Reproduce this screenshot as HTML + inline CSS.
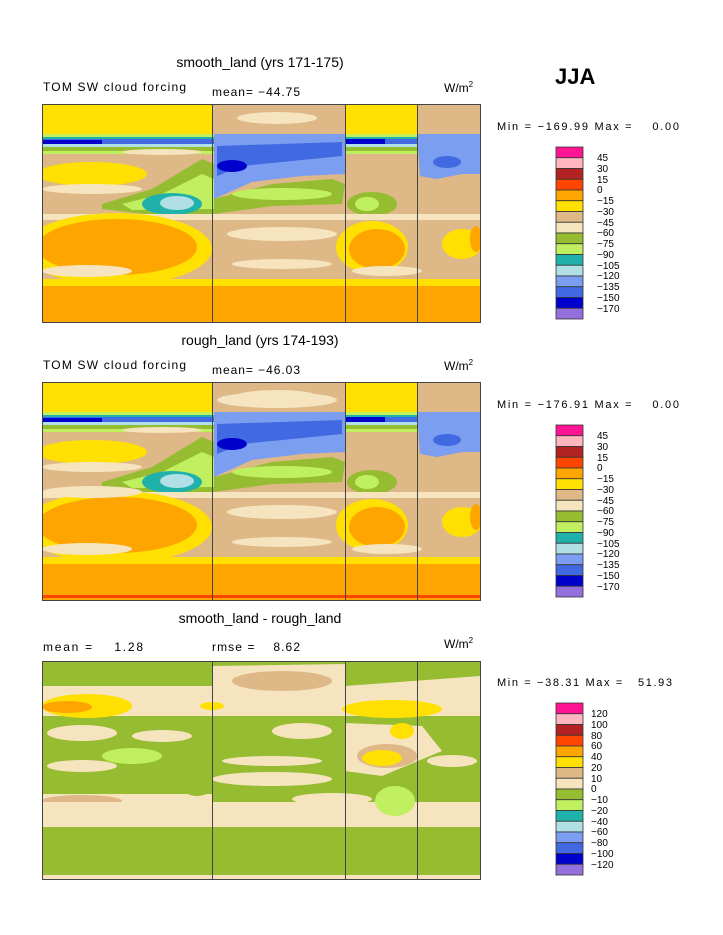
<!DOCTYPE html>
<html><head><meta charset="utf-8"><style>
body{margin:0;background:#fff;width:723px;height:935px;overflow:hidden}
svg{display:block}
text{font-family:"Liberation Sans",sans-serif;fill:#000;white-space:pre}
</style></head><body>
<svg width="723" height="935" viewBox="0 0 723 935">
<defs>
<clipPath id="cp"><rect x="0" y="0" width="438" height="218"/></clipPath>
<g id="p1">
<rect x="0" y="0" width="438" height="218" fill="#deb887"/>
<rect x="0" y="0" width="170" height="33" fill="#ffe000"/>
<rect x="303" y="0" width="72" height="30" fill="#ffe000"/>
<ellipse cx="235" cy="14" rx="40" ry="6" fill="#f5e4be"/>
<rect x="0" y="30" width="438" height="4" fill="#c0f060"/>
<rect x="0" y="33" width="438" height="3" fill="#20b2aa"/>
<rect x="0" y="35" width="438" height="5" fill="#4169e1"/>
<rect x="0" y="36" width="60" height="4" fill="#0000cd"/>
<rect x="303" y="35" width="40" height="5" fill="#0000cd"/>
<rect x="0" y="40" width="438" height="3" fill="#b0e0e6"/>
<rect x="0" y="43" width="438" height="4" fill="#96bc32"/>
<rect x="0" y="47" width="438" height="3" fill="#c0f060"/>
<path d="M172,30 L303,30 L303,70 L260,72 L210,78 L172,95 Z" fill="#7b9ef0"/>
<path d="M175,42 L300,38 L300,52 L240,58 L200,62 L175,72 Z" fill="#4169e1"/>
<ellipse cx="190" cy="62" rx="15" ry="6" fill="#0000cd"/>
<path d="M375,30 L438,30 L438,70 L420,70 L395,75 L378,72 Z" fill="#7b9ef0"/>
<ellipse cx="405" cy="58" rx="14" ry="6" fill="#4169e1"/>
<ellipse cx="50" cy="70" rx="55" ry="12" fill="#ffe000"/>
<ellipse cx="120" cy="48" rx="40" ry="3" fill="#f5e4be"/>
<ellipse cx="50" cy="85" rx="50" ry="5" fill="#f5e4be"/>
<path d="M60,100 L110,85 L160,55 L172,60 L172,115 L120,112 L60,105 Z" fill="#96bc32"/>
<path d="M80,100 L120,90 L160,70 L172,75 L172,105 L90,106 Z" fill="#c0f060"/>
<ellipse cx="130" cy="100" rx="30" ry="11" fill="#20b2aa"/>
<ellipse cx="135" cy="99" rx="17" ry="7" fill="#b0e0e6"/>
<path d="M172,95 L230,80 L290,75 L303,80 L300,100 L230,102 L172,110 Z" fill="#96bc32"/>
<ellipse cx="240" cy="90" rx="50" ry="6" fill="#c0f060"/>
<ellipse cx="330" cy="100" rx="25" ry="12" fill="#96bc32"/>
<ellipse cx="325" cy="100" rx="12" ry="7" fill="#c0f060"/>
<rect x="0" y="110" width="438" height="6" fill="#f5e4be"/>
<ellipse cx="75" cy="145" rx="95" ry="36" fill="#ffe000"/>
<ellipse cx="75" cy="143" rx="80" ry="28" fill="#ffa500"/>
<ellipse cx="330" cy="143" rx="36" ry="26" fill="#ffe000"/>
<ellipse cx="335" cy="145" rx="28" ry="20" fill="#ffa500"/>
<ellipse cx="420" cy="140" rx="20" ry="15" fill="#ffe000"/>
<ellipse cx="434" cy="135" rx="6" ry="13" fill="#ffa500"/>
<ellipse cx="240" cy="130" rx="55" ry="7" fill="#f5e4be"/>
<ellipse cx="240" cy="160" rx="50" ry="5" fill="#f5e4be"/>
<ellipse cx="45" cy="167" rx="45" ry="6" fill="#f5e4be"/>
<ellipse cx="345" cy="167" rx="35" ry="5" fill="#f5e4be"/>
<rect x="0" y="175" width="438" height="8" fill="#ffe000"/>
<rect x="0" y="182" width="438" height="36" fill="#ffa500"/>
</g>
</defs>

<text x="260" y="67" font-size="14" text-anchor="middle">smooth_land (yrs 171-175)</text>
<text x="43" y="91" font-size="12" textLength="143">TOM SW cloud forcing</text>
<text x="212" y="96" font-size="12" textLength="88">mean= −44.75</text>
<text x="444" y="92" font-size="12">W/m<tspan font-size="8" dy="-5">2</tspan></text>
<text x="555" y="84" font-size="22" font-weight="bold">JJA</text>
<text x="497" y="130" font-size="11" textLength="182">Min = −169.99 Max =    0.00</text>
<g transform="translate(42,104)" clip-path="url(#cp)"><use href="#p1"/></g>

<text x="260" y="345" font-size="14" text-anchor="middle">rough_land (yrs 174-193)</text>
<text x="43" y="369" font-size="12" textLength="143">TOM SW cloud forcing</text>
<text x="212" y="374" font-size="12" textLength="88">mean= −46.03</text>
<text x="444" y="370" font-size="12">W/m<tspan font-size="8" dy="-5">2</tspan></text>
<text x="497" y="408" font-size="11" textLength="182">Min = −176.91 Max =    0.00</text>
<g transform="translate(42,382)" clip-path="url(#cp)"><use href="#p1"/>
<rect x="0" y="213" width="438" height="3" fill="#ff4500"/>
<ellipse cx="50" cy="110" rx="50" ry="6" fill="#f5e4be"/>
<ellipse cx="235" cy="18" rx="60" ry="8" fill="#f5e4be"/></g>

<text x="260" y="623" font-size="14" text-anchor="middle">smooth_land - rough_land</text>
<text x="43" y="651" font-size="12" textLength="100">mean =    1.28</text>
<text x="212" y="651" font-size="12" textLength="88">rmse =    8.62</text>
<text x="444" y="648" font-size="12">W/m<tspan font-size="8" dy="-5">2</tspan></text>
<text x="497" y="686" font-size="11" textLength="175">Min = −38.31 Max =   51.93</text>
<g transform="translate(42,661)" clip-path="url(#cp)">
<rect x="0" y="0" width="438" height="218" fill="#96bc32"/>
<rect x="0" y="25" width="170" height="10" fill="#f5e4be"/>
<path d="M170,5 L303,3 L303,40 L170,40 Z" fill="#f5e4be"/>
<ellipse cx="240" cy="20" rx="50" ry="10" fill="#deb887"/>
<path d="M303,25 L438,15 L438,45 L303,45 Z" fill="#f5e4be"/>
<rect x="0" y="33" width="438" height="22" fill="#f5e4be"/>
<ellipse cx="45" cy="45" rx="45" ry="12" fill="#ffe000"/>
<ellipse cx="25" cy="46" rx="25" ry="6" fill="#ffa500"/>
<ellipse cx="350" cy="48" rx="50" ry="9" fill="#ffe000"/>
<ellipse cx="170" cy="45" rx="12" ry="4" fill="#ffe000"/>
<ellipse cx="120" cy="75" rx="30" ry="6" fill="#f5e4be"/>
<ellipse cx="40" cy="72" rx="35" ry="8" fill="#f5e4be"/>
<ellipse cx="260" cy="70" rx="30" ry="8" fill="#f5e4be"/>
<path d="M303,62 L380,65 L400,90 L340,115 L303,110 Z" fill="#f5e4be"/>
<ellipse cx="345" cy="95" rx="30" ry="12" fill="#deb887"/>
<ellipse cx="340" cy="97" rx="20" ry="8" fill="#ffe000"/>
<ellipse cx="360" cy="70" rx="12" ry="8" fill="#ffe000"/>
<ellipse cx="410" cy="100" rx="25" ry="6" fill="#f5e4be"/>
<ellipse cx="40" cy="105" rx="35" ry="6" fill="#f5e4be"/>
<ellipse cx="230" cy="100" rx="50" ry="5" fill="#f5e4be"/>
<ellipse cx="230" cy="118" rx="60" ry="7" fill="#f5e4be"/>
<ellipse cx="90" cy="95" rx="30" ry="8" fill="#c0f060"/>
<ellipse cx="290" cy="138" rx="40" ry="6" fill="#f5e4be"/>
<rect x="0" y="133" width="170" height="8" fill="#f5e4be"/>
<ellipse cx="40" cy="140" rx="40" ry="6" fill="#deb887"/>
<rect x="0" y="141" width="438" height="25" fill="#f5e4be"/>
<ellipse cx="155" cy="125" rx="15" ry="10" fill="#96bc32"/>
<ellipse cx="353" cy="140" rx="20" ry="15" fill="#c0f060"/>
<ellipse cx="250" cy="175" rx="40" ry="6" fill="#96bc32"/>
<rect x="0" y="214" width="438" height="4" fill="#f5e4be"/>
</g>

<g fill="none" stroke="#444" stroke-width="1">
<rect x="42.5" y="104.5" width="438" height="218"/>
<rect x="42.5" y="382.5" width="438" height="218"/>
<rect x="42.5" y="661.5" width="438" height="218"/>
<path d="M212.5,104V322M345.5,104V322M417.5,104V322M212.5,382V600M345.5,382V600M417.5,382V600M212.5,661V879M345.5,661V879M417.5,661V879"/>
</g>

<g id="cb1" stroke="#333" stroke-width="0.8">
<rect x="556" y="147" width="27" height="10.75" fill="#ff1493"/>
<rect x="556" y="157.75" width="27" height="10.75" fill="#ffb6c1"/>
<rect x="556" y="168.5" width="27" height="10.75" fill="#b22222"/>
<rect x="556" y="179.25" width="27" height="10.75" fill="#ff4500"/>
<rect x="556" y="190" width="27" height="10.75" fill="#ffa500"/>
<rect x="556" y="200.75" width="27" height="10.75" fill="#ffe000"/>
<rect x="556" y="211.5" width="27" height="10.75" fill="#deb887"/>
<rect x="556" y="222.25" width="27" height="10.75" fill="#f5e4be"/>
<rect x="556" y="233" width="27" height="10.75" fill="#96bc32"/>
<rect x="556" y="243.75" width="27" height="10.75" fill="#c0f060"/>
<rect x="556" y="254.5" width="27" height="10.75" fill="#20b2aa"/>
<rect x="556" y="265.25" width="27" height="10.75" fill="#b0e0e6"/>
<rect x="556" y="276" width="27" height="10.75" fill="#7b9ef0"/>
<rect x="556" y="286.75" width="27" height="10.75" fill="#4169e1"/>
<rect x="556" y="297.5" width="27" height="10.75" fill="#0000cd"/>
<rect x="556" y="308.25" width="27" height="10.75" fill="#9370db"/>
</g>
<use href="#cb1" y="278"/>
<use href="#cb1" y="556"/>

<g font-size="10">
<g><text x="597" y="161">45</text><text x="597" y="172">30</text><text x="597" y="183">15</text><text x="597" y="193">0</text><text x="597" y="204">−15</text><text x="597" y="215">−30</text><text x="597" y="226">−45</text><text x="597" y="236">−60</text><text x="597" y="247">−75</text><text x="597" y="258">−90</text><text x="597" y="269">−105</text><text x="597" y="279">−120</text><text x="597" y="290">−135</text><text x="597" y="301">−150</text><text x="597" y="312">−170</text></g>
<g transform="translate(0,278)"><text x="597" y="161">45</text><text x="597" y="172">30</text><text x="597" y="183">15</text><text x="597" y="193">0</text><text x="597" y="204">−15</text><text x="597" y="215">−30</text><text x="597" y="226">−45</text><text x="597" y="236">−60</text><text x="597" y="247">−75</text><text x="597" y="258">−90</text><text x="597" y="269">−105</text><text x="597" y="279">−120</text><text x="597" y="290">−135</text><text x="597" y="301">−150</text><text x="597" y="312">−170</text></g>
<g transform="translate(0,556)"><text x="591" y="161">120</text><text x="591" y="172">100</text><text x="591" y="183">80</text><text x="591" y="193">60</text><text x="591" y="204">40</text><text x="591" y="215">20</text><text x="591" y="226">10</text><text x="591" y="236">0</text><text x="591" y="247">−10</text><text x="591" y="258">−20</text><text x="591" y="269">−40</text><text x="591" y="279">−60</text><text x="591" y="290">−80</text><text x="591" y="301">−100</text><text x="591" y="312">−120</text></g>
</g>
</svg>
</body></html>
